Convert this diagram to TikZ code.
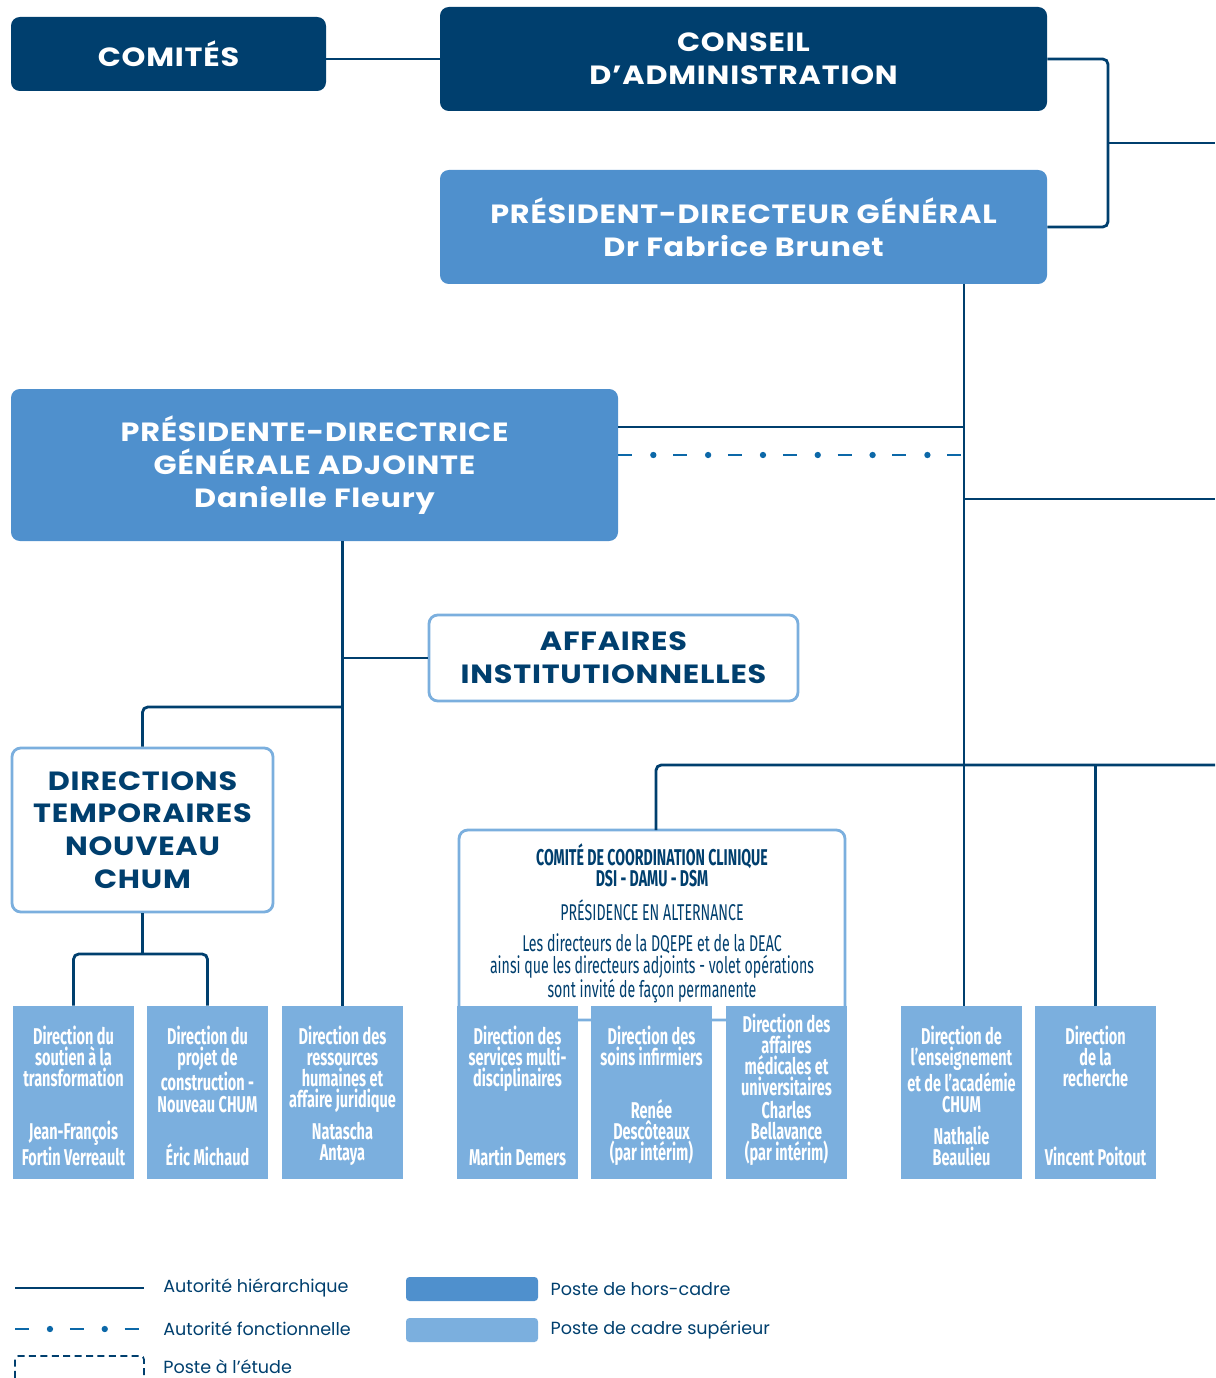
\documentclass[tikz,border=0pt]{standalone}
\usepackage{fontspec}
\setmainfont{Poppins}
\newfontfamily\headfont[FakeStretch=1.15, LetterSpace=3]{Poppins}
\newfontfamily\condfont[FakeStretch=0.635]{Fira Sans}
\newfontfamily\cccfont[FakeStretch=0.62]{Fira Sans}
\usetikzlibrary{positioning}
\definecolor{navy}{RGB}{0,63,110}
\definecolor{midblue}{RGB}{79,144,205}
\definecolor{paleblue}{RGB}{123,175,222}
\definecolor{fnblue}{RGB}{12,104,168}
\tikzset{
  boxsize/.style 2 args={minimum width=#1*0.02cm, minimum height=#2*0.02cm},
  headbox/.style={rounded corners=5pt, inner sep=0pt, align=center, font=\headfont\bfseries\fontsize{15}{18.7}\selectfont},
  darkbox/.style={headbox, fill=navy, text=white},
  hcbox/.style={headbox, fill=midblue, text=white},
  openbox/.style={headbox, draw=paleblue, line width=1.6pt, fill=white, text=navy},
  dirbox/.style={fill=paleblue, inner sep=0pt, boxsize={121}{173}},
  dirtext/.style={text=white, align=center, inner sep=0pt, font=\condfont\bfseries\fontsize{13}{12}\selectfont},
  ccctext/.style={text=navy, align=center, inner sep=0pt, font=\cccfont\fontsize{13}{12}\selectfont},
  link/.style={navy, line width=1.6pt},
  fnlink/.style={fnblue, line width=1.6pt, dash pattern=on 7.9pt off 23.3pt},
  fndots/.style={fnblue, line width=3.6pt, line cap=round, dash pattern=on 0pt off 31.2pt, dash phase=11.3pt},
  legtext/.style={text=navy, anchor=west, inner sep=0pt, font=\fontsize{10}{11}\selectfont},
  keybox/.style={rounded corners=2pt, inner sep=0pt, boxsize={132}{24}}
}

\begin{document}
\begin{tikzpicture}[x=0.02cm, y=-0.02cm]
	\useasboundingbox (0,0) rectangle (1215,1378);

	% haut de l'organigramme
	\node[darkbox, boxsize={315}{74}] (comites) at (168.5,54) {COMITÉS};
	\node[darkbox, boxsize={607}{104}] (conseil) at (743.5,59) {CONSEIL\\D’ADMINISTRATION};
	\node[hcbox, boxsize={607}{114}] (pdg) at (743.5,227) {PRÉSIDENT-DIRECTEUR GÉNÉRAL\\Dr Fabrice Brunet};
	\node[hcbox, boxsize={607}{152}] (pdga) at (314.5,465) {PRÉSIDENTE-DIRECTRICE\\GÉNÉRALE ADJOINTE\\Danielle Fleury};
	\node[openbox, boxsize={369}{86}] (affaires) at (613.5,658) {AFFAIRES\\INSTITUTIONNELLES};
	\node[openbox, boxsize={261}{164}] (temp) at (142.5,830) {DIRECTIONS\\TEMPORAIRES\\NOUVEAU\\CHUM};

	\node[openbox, boxsize={386}{190}] (ccc) at (652,925) {};
	\node[ccctext, below=0.3cm of ccc.north] (cccinfo) {\textbf{COMITÉ DE COORDINATION CLINIQUE}\\\textbf{DSI - DAMU - DSM}\\[6pt]PRÉSIDENCE EN ALTERNANCE\\[6pt]Les directeurs de la DQEPE et de la DEAC\\ainsi que les directeurs adjoints - volet opérations\\sont invité de façon permanente};

	% directions
	\node[dirbox] (dir1) at (73.5,1092.5) {};
	\node[dirbox] (dir2) at (207.5,1092.5) {};
	\node[dirbox] (dir3) at (342.5,1092.5) {};
	\node[dirbox] (dir4) at (517.5,1092.5) {};
	\node[dirbox] (dir5) at (651.5,1092.5) {};
	\node[dirbox] (dir6) at (786.5,1092.5) {};
	\node[dirbox] (dir7) at (961.5,1092.5) {};
	\node[dirbox] (dir8) at (1095.5,1092.5) {};

	\node[dirtext, below=0.4cm of dir1.north] (dir1t) {Direction du\\soutien à la\\transformation};
	\node[dirtext, above=0.26cm of dir1.south] (dir1n) {Jean-François\\Fortin Verreault};
	\node[dirtext, below=0.4cm of dir2.north] (dir2t) {Direction du\\projet de\\construction -\\Nouveau CHUM};
	\node[dirtext, above=0.26cm of dir2.south] (dir2n) {Éric Michaud};
	\node[dirtext, below=0.4cm of dir3.north] (dir3t) {Direction des\\ressources\\humaines et\\affaire juridique};
	\node[dirtext, above=0.26cm of dir3.south] (dir3n) {Natascha\\Antaya};
	\node[dirtext, below=0.4cm of dir4.north] (dir4t) {Direction des\\services multi-\\disciplinaires};
	\node[dirtext, above=0.26cm of dir4.south] (dir4n) {Martin Demers};
	\node[dirtext, below=0.4cm of dir5.north] (dir5t) {Direction des\\soins infirmiers};
	\node[dirtext, above=0.26cm of dir5.south] (dir5n) {Renée\\Descôteaux\\(par intérim)};
	\node[dirtext, below=0.16cm of dir6.north] (dir6t) {Direction des\\affaires\\médicales et\\universitaires};
	\node[dirtext, above=0.26cm of dir6.south] (dir6n) {Charles\\Bellavance\\(par intérim)};
	\node[dirtext, below=0.4cm of dir7.north] (dir7t) {Direction de\\l’enseignement\\et de l’académie\\CHUM};
	\node[dirtext, above=0.26cm of dir7.south] (dir7n) {Nathalie\\Beaulieu};
	\node[dirtext, below=0.4cm of dir8.north] (dir8t) {Direction\\de la\\recherche};
	\node[dirtext, above=0.26cm of dir8.south] (dir8n) {Vincent Poitout};

	% liens
	\coordinate (spine) at (964,284);
	\coordinate (rail) at (1108,143);
	\coordinate (edgeB) at (1215,143);
	\coordinate (edgeC) at (1215,499);
	\coordinate (edgeD) at (1215,765);
	\coordinate (cccTop) at (656,830);
	\coordinate (lvlA) at (0,427);
	\coordinate (lvlB) at (0,455);
	\coordinate (lvlT) at (0,707);
	\coordinate (lvlS) at (0,954);

	\draw[link] (comites.east |- conseil.west) -- (conseil.west);
	\draw[link, rounded corners=3pt] (conseil.east) -| (rail) |- (pdg.east);
	\draw[link] (rail) -- (edgeB);
	\draw[link] (spine) -- (spine |- dir7.north);
	\draw[link] (pdga.east |- lvlA) -- (spine |- lvlA);
	\draw[fnlink] (pdga.east |- lvlB) -- (spine |- lvlB);
	\draw[fndots] (pdga.east |- lvlB) -- (spine |- lvlB);
	\draw[link] (spine |- edgeC) -- (edgeC);
	\draw[link, rounded corners=3pt] (cccTop) |- (edgeD);
	\draw[link] (dir8.north) -- (dir8.north |- edgeD);
	\draw[link] (dir3.north |- pdga.south) -- (dir3.north);
	\draw[link] (affaires.west) -- (affaires.west -| dir3.north);
	\draw[link, rounded corners=3pt] (temp.north) |- (dir3.north |- lvlT);
	\draw[link] (temp.south) -- (temp.south |- lvlS);
	\draw[link, rounded corners=3pt] (dir1.north) |- (temp.south |- lvlS) -| (dir2.north);

	% légende
	\coordinate (hierL) at (15,1288);
	\coordinate (hierR) at (144,1288);
	\coordinate (fonL) at (15,1329);
	\coordinate (fonR) at (144,1329);
	\coordinate (etudeBL) at (15,1378);
	\coordinate (etudeTR) at (144,1356);
	\coordinate (etudeBR) at (144,1378);

	\draw[link] (hierL) -- (hierR);
	\node[legtext, right=0.38cm of hierR] (hier) {Autorité hiérarchique};
	\draw[fnlink] (fonL) -- (fonR);
	\draw[fndots] (fonL) -- (fonR);
	\node[legtext, right=0.38cm of fonR] (fonct) {Autorité fonctionnelle};
	\draw[navy, line width=1pt, dash pattern=on 4pt off 2.5pt, rounded corners=2pt] (etudeBL) |- (etudeTR) -- (etudeBR);
	\node[legtext] (etude) at (163,1367) {Poste à l’étude};

	\node[keybox, fill=midblue] (keyhc) at (472,1289) {};
	\node[legtext, right=0.24cm of keyhc] (hc) {Poste de hors-cadre};
	\node[keybox, fill=paleblue] (keycs) at (472,1330) {};
	\node[legtext, right=0.24cm of keycs] (cs) {Poste de cadre supérieur};
\end{tikzpicture}
\end{document}
